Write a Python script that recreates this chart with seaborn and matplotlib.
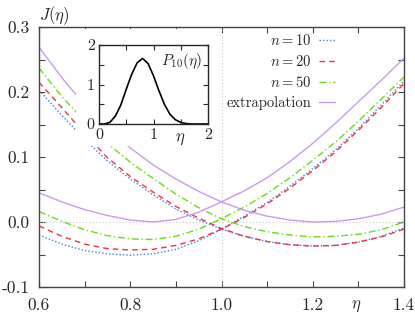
import matplotlib
matplotlib.use('Agg')
import matplotlib.pyplot as plt
import seaborn as sns
from matplotlib.patches import Rectangle
from matplotlib.ticker import AutoMinorLocator

# eta grid shared by all curves
eta = [0.60, 0.65, 0.70, 0.75, 0.80, 0.85, 0.90, 0.95, 1.00,
       1.05, 1.10, 1.15, 1.20, 1.25, 1.30, 1.35, 1.40]

# family with its minimum near eta = 0.8
j10_lo = [-0.020, -0.034, -0.044, -0.049, -0.051, -0.049, -0.042, -0.029, -0.011,
          0.009, 0.030, 0.055, 0.082, 0.111, 0.144, 0.180, 0.217]
j20_lo = [-0.006, -0.022, -0.034, -0.041, -0.043, -0.042, -0.036, -0.026, -0.011,
          0.007, 0.028, 0.052, 0.079, 0.108, 0.141, 0.176, 0.213]
j50_lo = [0.016, 0.001, -0.012, -0.021, -0.026, -0.027, -0.022, -0.011, 0.005,
          0.023, 0.044, 0.068, 0.095, 0.123, 0.155, 0.189, 0.223]
jex_lo = [0.045, 0.031, 0.019, 0.010, 0.003, 0.000, 0.004, 0.015, 0.031,
          0.048, 0.068, 0.093, 0.121, 0.152, 0.185, 0.218, 0.252]

# family with its minimum near eta = 1.2
j10_hi = [0.203, 0.164, 0.127, 0.094, 0.066, 0.042, 0.020, 0.003, -0.011,
          -0.022, -0.030, -0.035, -0.037, -0.036, -0.031, -0.022, -0.009]
j20_hi = [0.215, 0.176, 0.136, 0.099, 0.070, 0.046, 0.024, 0.006, -0.010,
          -0.022, -0.030, -0.035, -0.037, -0.036, -0.031, -0.023, -0.011]
j50_hi = [0.237, 0.193, 0.155, 0.121, 0.092, 0.067, 0.043, 0.022, 0.005,
          -0.007, -0.015, -0.020, -0.023, -0.022, -0.019, -0.012, 0.000]
jex_hi = [0.269, 0.222, 0.180, 0.145, 0.114, 0.088, 0.066, 0.047, 0.031,
          0.018, 0.009, 0.003, 0.000, 0.001, 0.005, 0.012, 0.023]

# inset distribution P_10(eta)
eta_p = [0.0, 0.1, 0.2, 0.3, 0.4, 0.5, 0.6, 0.7, 0.8, 0.9, 1.0,
         1.1, 1.2, 1.3, 1.4, 1.5, 1.6, 1.7, 1.8, 1.9, 2.0]
p10 = [0.0, 0.0, 0.04, 0.20, 0.48, 0.88, 1.26, 1.55, 1.66, 1.53, 1.22,
       0.84, 0.50, 0.25, 0.11, 0.04, 0.01, 0.0, 0.0, 0.0, 0.0]

xticks = [0.6, 0.8, 1.0, 1.2, 1.4]
xlabels = ['0.6', '0.8', '1.0', '1.2', '1.4']
yticks = [-0.1, 0.0, 0.1, 0.2, 0.3]
ylabels = ['-0.1', '0.0', '0.1', '0.2', '0.3']

sns.set_style('ticks')
plt.rcParams['font.family'] = 'cmr10'
plt.rcParams['mathtext.fontset'] = 'cm'
plt.rcParams['axes.unicode_minus'] = False
plt.rcParams['axes.formatter.use_mathtext'] = True

fig = plt.figure(figsize=(4.15, 3.15), dpi=100)
ax = fig.add_axes([39 / 415, 28 / 315, 365 / 415, 260 / 315])

styles = [
    (r'$n = 10$', '#3f80dc', (0, (1, 1.5)), j10_lo, j10_hi),
    (r'$n = 20$', '#ee3344', (0, (4, 3)), j20_lo, j20_hi),
    (r'$n = 50$', '#66dd11', (0, (5, 2, 1, 2)), j50_lo, j50_hi),
    ('extrapolation', '#cc99ee', '-', jex_lo, jex_hi),
]

ax.axhline(0, color='#c8c8c8', ls=(0, (1, 2)), lw=0.8, zorder=1)
ax.axvline(1.0, color='#c8c8c8', ls=(0, (1, 2)), lw=0.8, zorder=1)

for label, col, ls, lo, hi in styles:
    sns.lineplot(x=eta, y=lo, ax=ax, color=col, linestyle=ls, lw=1.0,
                 label=label, sort=False, estimator=None)
    sns.lineplot(x=eta, y=hi, ax=ax, color=col, linestyle=ls, lw=1.0,
                 sort=False, estimator=None)

ax.set_xlim(0.6, 1.4)
ax.set_ylim(-0.1, 0.3)
ax.set_xticks(xticks, xlabels)
ax.set_yticks(yticks, ylabels)
ax.xaxis.set_minor_locator(AutoMinorLocator(2))
ax.yaxis.set_minor_locator(AutoMinorLocator(2))
ax.tick_params(which='both', direction='in', top=True, right=True,
               length=4, width=0.8, color='#444444', labelsize=12.5)
ax.tick_params(axis='y', pad=7)
ax.tick_params(axis='x', pad=8)
for sp in ax.spines.values():
    sp.set_color('#444444')
    sp.set_linewidth(1.0)
ax.set_xlabel('')
ax.set_ylabel('')
ax.text(0.0, 1.088, r'$J(\eta)$', transform=ax.transAxes, ha='left',
        va='top', fontsize=12)
ax.text(0.87, -0.045, r'$\eta$', transform=ax.transAxes, ha='center',
        va='top', fontsize=12)

ax.legend(loc='upper right', bbox_to_anchor=(0.83, 1.005), frameon=False,
          markerfirst=False, handlelength=1.1, handletextpad=0.5,
          labelspacing=0.42, borderpad=0, fontsize=10.5)

# white area behind the inset hides the curves there
ax.add_patch(Rectangle((76 / 415, (315 - 146) / 315), (212 - 76) / 415,
                       (146 - 29) / 315, transform=fig.transFigure,
                       facecolor='white', edgecolor='none', zorder=3))

axin = fig.add_axes([99 / 415, (315 - 124) / 315, 109 / 415, 79 / 315])
axin.set_zorder(3)
sns.lineplot(x=eta_p, y=p10, ax=axin, color='black', lw=1.2,
             sort=False, estimator=None)
axin.set_xlim(0, 2)
axin.set_ylim(0, 2)
axin.set_xticks([0, 1, 2], ['0', '1', '2'])
axin.set_yticks([0, 1, 2], ['0', '1', '2'])
axin.xaxis.set_minor_locator(AutoMinorLocator(2))
axin.yaxis.set_minor_locator(AutoMinorLocator(2))
axin.tick_params(which='both', direction='in', top=True, right=True,
                 length=3.5, width=0.8, labelsize=11.5, pad=3)
for sp in axin.spines.values():
    sp.set_linewidth(1.0)
axin.set_xlabel('')
axin.set_ylabel('')
axin.text(0.76, 0.8, r'$P_{10}(\eta)$', transform=axin.transAxes,
          ha='center', va='center', fontsize=11)
axin.text(0.74, -0.1, r'$\eta$', transform=axin.transAxes, ha='center',
          va='top', fontsize=12)

fig.savefig('out.png', dpi=100)
